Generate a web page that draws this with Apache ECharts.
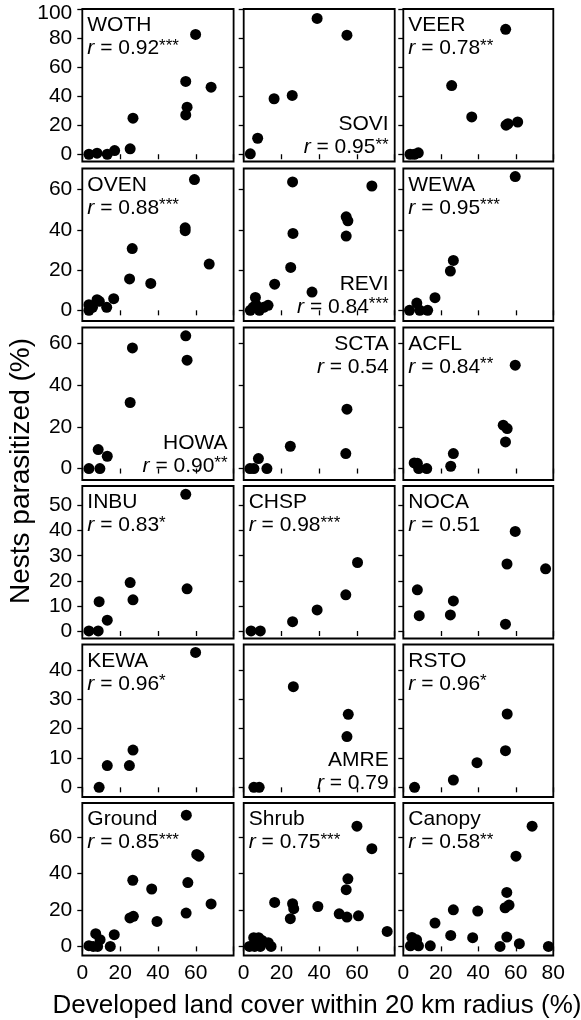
<!DOCTYPE html>
<html><head><meta charset="utf-8">
<script src="https://cdn.jsdelivr.net/npm/echarts@6/dist/echarts.min.js"></script>
<style>html,body{margin:0;padding:0;background:#fff}#c{width:581px;height:1020px}</style>
</head><body><div id="c"></div>
<script>
// ---------- data ----------
const species = ['WOTH','SOVI','VEER','OVEN','REVI','WEWA','HOWA','SCTA','ACFL','INBU','CHSP','NOCA','KEWA','AMRE','RSTO','Ground','Shrub','Canopy'];
const rValues = ['0.92','0.95','0.78','0.88','0.84','0.95','0.90','0.54','0.84','0.83','0.98','0.51','0.96','0.79','0.96','0.85','0.75','0.58'];
const rStars  = ['***','**','**','***','***','***','**','','**','*','***','','*','','*','***','***','**'];

const xWOTH = [3.5, 7.8, 13.2, 17.1, 25.3, 26.8, 54.7, 55.4, 54.7, 59.9, 68.1];
const yWOTH = [0, 0.7, 0, 2.5, 3.7, 24.8, 50.1, 32.4, 27.1, 82.5, 46.2];
const xSOVI = [3.5, 7.4, 16.1, 25.7, 38.9, 54.7];
const ySOVI = [0.3, 11, 38.2, 40.5, 93.5, 82];
const xVEER = [3.6, 5.9, 8, 25.8, 36.5, 54.6, 54.8, 55.8, 61];
const yVEER = [0, 0, 1, 47.3, 25.7, 86, 20, 21, 22.2];
const xOVEN = [3.5, 3.5, 5.4, 7.8, 9, 12.9, 16.6, 25, 26.4, 36.2, 54.4, 54.4, 59.3, 67.1];
const yOVEN = [0, 2.8, 1.5, 5.3, 4.5, 1.5, 5.8, 15.6, 30.7, 13.4, 41, 39.6, 65, 23];
const xREVI = [3.5, 5, 6.2, 6.5, 8.3, 10.6, 12.9, 16.4, 24.9, 25.9, 26.1, 36.2, 54.3, 55.2, 54.3, 67.9];
const yREVI = [0, 1.5, 6.4, 2.8, 0, 1.5, 2.5, 13, 21.3, 63.8, 38.2, 9.1, 46.5, 44.5, 36.9, 61.8];
const xWEWA = [3.3, 7.2, 8.8, 13, 16.9, 25.1, 26.7, 59.7];
const yWEWA = [0, 3.6, 0, 0, 6.3, 19.5, 24.8, 66.5];
const xHOWA = [3.5, 8.4, 9.3, 13.2, 25.3, 26.5, 54.7, 55.4];
const yHOWA = [0, 9.1, 0, 5.9, 31.7, 57.9, 63.7, 52];
const xSCTA = [3.3, 5.4, 7.8, 12.3, 24.7, 54.7, 54.1];
const ySCTA = [0, 0, 4.8, 0, 10.7, 28.5, 7.2];
const xACFL = [5.8, 7.5, 8.2, 12.5, 25.3, 26.7, 53.3, 55.4, 54.5, 59.7];
const yACFL = [2.7, 2.5, 0, 0, 1.1, 7.2, 20.8, 19.2, 12.8, 49.6];
const xINBU = [3.5, 8.4, 8.9, 13.2, 25.3, 26.8, 54.7, 55.4];
const yINBU = [0, 0, 11.7, 4.3, 19.3, 12.4, 54.5, 16.8];
const xCHSP = [3.9, 8.8, 25.9, 38.9, 54.1, 60.3];
const yCHSP = [0, 0, 3.7, 8.4, 14.4, 27.3];
const xNOCA = [7.5, 8.5, 25.1, 26.7, 54.5, 55.3, 59.7, 75.9];
const yNOCA = [16.4, 6.1, 6.4, 12, 2.7, 26.7, 39.7, 24.8];
const xKEWA = [8.9, 13.2, 24.9, 26.8, 59.9];
const yKEWA = [0, 7.4, 7.4, 12.7, 46];
const xAMRE = [5.4, 8.2, 26.3, 54.7, 55.4];
const yAMRE = [0, 0, 34.3, 17.3, 24.9];
const xRSTO = [6, 26.7, 39.3, 54.5, 55.4];
const yRSTO = [0, 2.5, 8.4, 12.5, 25];
const xGround = [3.5, 5.8, 8.1, 7.1, 9.4, 14.8, 16.9, 25.2, 27, 26.7, 36.7, 39.5, 54.9, 55.8, 55, 60.5, 61.7, 68.1];
const yGround = [0.4, 0, 0, 7, 3.7, 0, 6.4, 15.6, 16.5, 36.3, 31.5, 13.7, 18.3, 35, 72, 50.5, 49.5, 23.3];
const xShrub = [3, 5.3, 7.9, 9.7, 5.8, 8.8, 13, 14.5, 16.4, 24.7, 25.9, 26.5, 39.3, 50.6, 54.7, 54.3, 55.2, 60.8, 60, 67.9, 76];
const yShrub = [0, 4.8, 4.8, 3.3, 0, 0, 2, 0, 24.1, 15.2, 23.4, 20.7, 21.9, 17.9, 16.1, 31.1, 37.1, 16.8, 66, 53.6, 8.2];
const xCanopy = [3.8, 4.6, 7.1, 8.1, 6, 14.4, 16.9, 25.3, 26.7, 37, 39.7, 51.6, 54.3, 55.2, 55.2, 56.4, 60.1, 61.9, 68.7, 77.4];
const yCanopy = [0.3, 4.9, 3.6, 0.3, 2, 0.3, 12.8, 6, 20.1, 4.8, 19.4, 0, 21.2, 29.6, 5.1, 22.7, 49.5, 1.5, 66, 0];

const xTicks = [0, 20, 40, 60, 80];
const xTickLabelsInner = [0, 20, 40, 60];
const yTicksRow1 = [0, 20, 40, 60, 80, 100];
const yTicksRow2 = [0, 20, 40, 60];
const yTicksRow3 = [0, 20, 40, 60];
const yTicksRow4 = [0, 10, 20, 30, 40, 50];
const yTicksRow5 = [0, 10, 20, 30, 40];
const yTicksRow6 = [0, 20, 40, 60];
const xTitle = 'Developed land cover within 20 km radius (%)';
const yTitle = 'Nests parasitized (%)';

// ---------- layout ----------
const xs = [xWOTH,xSOVI,xVEER,xOVEN,xREVI,xWEWA,xHOWA,xSCTA,xACFL,xINBU,xCHSP,xNOCA,xKEWA,xAMRE,xRSTO,xGround,xShrub,xCanopy];
const ys = [yWOTH,ySOVI,yVEER,yOVEN,yREVI,yWEWA,yHOWA,ySCTA,yACFL,yINBU,yCHSP,yNOCA,yKEWA,yAMRE,yRSTO,yGround,yShrub,yCanopy];
const rowTicks = [yTicksRow1,yTicksRow2,yTicksRow3,yTicksRow4,yTicksRow5,yTicksRow6];
const rowRange = [[-5,100],[-5.3,70.5],[-5.5,67.7],[-3,57.8],[-3.3,48.7],[-5,78.7]];
const labelPos = ['tl','br','tl','tl','br','tl','br','tr','tl','tl','tl','tl','tl','br','tl','tl','tl','tl'];
const colLeft = [82.3, 243.7, 403.3];
const colW = [151.3, 151, 150];
const rowTop = [9, 168.5, 327.5, 486, 644.5, 803];
const rowH = 152.5;
const FF = '"Liberation Sans", Arial, Helvetica, sans-serif';
const FS = 21;

const grids = [], xAxes = [], yAxes = [], series = [], graphics = [];
for (let i = 0; i < 18; i++) {
  const col = i % 3, row = Math.floor(i / 3);
  grids.push({left: colLeft[col], top: rowTop[row], width: colW[col], height: rowH,
    show: true, borderColor: '#000', borderWidth: 1.8, backgroundColor: 'rgba(0,0,0,0)'});
  xAxes.push({gridIndex: i, type: 'value', min: 0, max: 80, interval: 20,
    axisLine: {show: false}, splitLine: {show: false},
    axisTick: {show: true, length: 5, lineStyle: {color: '#000', width: 1.3}},
    axisLabel: {show: row === 5, customValues: col === 2 ? xTicks : xTickLabelsInner,
      fontSize: FS, fontFamily: FF, color: '#000', margin: 7}});
  const ticks = rowTicks[row];
  yAxes.push({gridIndex: i, type: 'value', min: rowRange[row][0], max: rowRange[row][1],
    axisLine: {show: false}, splitLine: {show: false},
    axisTick: {show: true, customValues: ticks, length: 5, lineStyle: {color: '#000', width: 1.3}},
    axisLabel: {show: col === 0, customValues: ticks, fontSize: FS, fontFamily: FF, color: '#000', margin: 10,
      formatter: v => (v === 100 ? '{t|100}' : String(v)),
      rich: {t: {fontSize: FS, fontFamily: FF, color: '#000', padding: [9, 0, 0, 0]}}}});
  series.push({type: 'scatter', xAxisIndex: i, yAxisIndex: i, symbol: 'circle', symbolSize: 11,
    clip: false, itemStyle: {color: '#000', opacity: 1}, silent: true,
    data: xs[i].map((x, k) => [x, ys[i][k]])});

  // panel labels
  const left = colLeft[col], right = colLeft[col] + colW[col], top = rowTop[row], bottom = top + rowH;
  const p = labelPos[i];
  let x, align, y1, y2;
  if (p === 'tl') { x = left + 5; align = 'left'; y1 = top + 16.5; y2 = top + 39.5; }
  else if (p === 'tr') { x = right - 6; align = 'right'; y1 = top + 16.5; y2 = top + 39.5; }
  else { x = right - 6; align = 'right'; y1 = bottom - 37; y2 = bottom - 14; }
  graphics.push({type: 'text', x: x, y: y1, silent: true,
    style: {text: species[i], fill: '#000', fontSize: FS, fontFamily: FF, align: align, verticalAlign: 'middle'}});
  graphics.push({type: 'text', x: x, y: y2, silent: true,
    style: {text: '{i|r} = ' + rValues[i] + (rStars[i] ? '{s|' + rStars[i] + '}' : ''),
      fill: '#000', fontSize: FS, fontFamily: FF, align: align, verticalAlign: 'middle', lineHeight: 22,
      rich: {i: {fontStyle: 'italic', fontSize: FS, fontFamily: FF, fill: '#000', lineHeight: 22},
             s: {fontSize: 17, fontFamily: FF, fill: '#000', lineHeight: 16, verticalAlign: 'top'}}}});
}
graphics.push({type: 'text', x: 317, y: 1006, silent: true,
  style: {text: xTitle, fill: '#000', fontSize: 26, fontFamily: FF, align: 'center', verticalAlign: 'middle'}});
graphics.push({type: 'text', x: 21, y: 471, rotation: Math.PI / 2, silent: true,
  style: {text: yTitle, fill: '#000', fontSize: 28, fontFamily: FF, align: 'center', verticalAlign: 'middle'}});

const chart = echarts.init(document.getElementById('c'), null, {renderer: 'canvas'});
chart.setOption({backgroundColor: '#fff', animation: false, grid: grids, xAxis: xAxes, yAxis: yAxes,
  series: series, graphic: graphics});
</script></body></html>
